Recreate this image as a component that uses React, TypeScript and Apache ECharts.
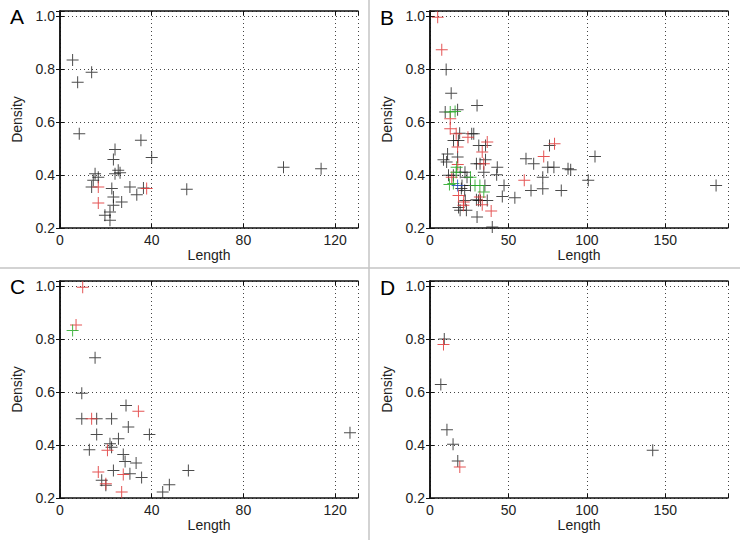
import React, { useEffect, useRef } from "react";
import * as echarts from "echarts";

// Panel A
const aBlack: number[][] = [
  [5.5, 0.835], [7.7, 0.751], [13.8, 0.789], [8.4, 0.556],
  [35.3, 0.532], [40, 0.466], [24, 0.497], [23.3, 0.459], [25.4, 0.418], [26.2, 0.409],
  [24, 0.405], [15.3, 0.405], [16.7, 0.392], [14.5, 0.38], [13.8, 0.355], [22.6, 0.349],
  [23.3, 0.317], [30.5, 0.355], [33.5, 0.326], [36.4, 0.351], [26.9, 0.298], [23.3, 0.286],
  [21.8, 0.26], [19.6, 0.248], [21.8, 0.229], [55.3, 0.346], [97.5, 0.43], [113.9, 0.424],
];
const aRed: number[][] = [[16.7, 0.355], [16.7, 0.294], [37.8, 0.349]];

// Panel B
const bBlack: number[][] = [
  [10.3, 0.799], [13.5, 0.709], [30, 0.663], [9.7, 0.638], [17.6, 0.647], [11.2, 0.48],
  [8.6, 0.458], [17.6, 0.468], [15, 0.531], [18.9, 0.558], [27.9, 0.556], [31.1, 0.512],
  [35.4, 0.512], [29.6, 0.443], [35.4, 0.458], [42.9, 0.43], [42.5, 0.401], [11.8, 0.399],
  [19.3, 0.411], [23.6, 0.392], [20.4, 0.361], [22.1, 0.342], [25.8, 0.361], [35, 0.361],
  [47.2, 0.361], [46.1, 0.319], [54.1, 0.314], [22.5, 0.304], [23.2, 0.267], [18.2, 0.277],
  [29.6, 0.307], [32.2, 0.304], [36.5, 0.304], [30, 0.242], [39.7, 0.204], [61.2, 0.462],
  [66.1, 0.443], [75.1, 0.43], [79, 0.43], [76.2, 0.512], [71.9, 0.392], [64.4, 0.342],
  [71.9, 0.348], [83.7, 0.342], [88, 0.424], [89.7, 0.42], [100.9, 0.38], [105.2, 0.47],
  [182.4, 0.361], [34.3, 0.411], [18.1, 0.531], [14.9, 0.399], [20, 0.349], [19.2, 0.267],
  [30.9, 0.304], [26.6, 0.556], [10.6, 0.449], [31.9, 0.443], [22.3, 0.411],
];
const bRed: number[][] = [
  [4.9, 0.996], [7.5, 0.874], [12.9, 0.613], [12.9, 0.575], [16.7, 0.556], [17.6, 0.506],
  [24.2, 0.543], [36.5, 0.525], [33.3, 0.487], [34.3, 0.443], [13.9, 0.392], [18.2, 0.323],
  [21.5, 0.298], [33.3, 0.288], [31.8, 0.317], [39, 0.264], [60.1, 0.38], [72.5, 0.47],
  [79.4, 0.518], [21.3, 0.286], [17.7, 0.44],
];
const bGreen: number[][] = [
  [12.9, 0.638], [16, 0.64], [12.4, 0.364], [16.7, 0.411], [25.8, 0.392], [31.8, 0.361],
  [34.3, 0.336], [17, 0.43], [14.9, 0.368], [28.7, 0.361],
];
const bBlue: number[][] = [[17.6, 0.361]];

// Panel C
const cBlack: number[][] = [
  [15.3, 0.73], [9.5, 0.596], [9.5, 0.499], [16, 0.499], [22.5, 0.499], [28.8, 0.55],
  [29.8, 0.468], [16, 0.44], [39, 0.44], [25.5, 0.424], [21.8, 0.405], [22.5, 0.392],
  [12.8, 0.382], [27.6, 0.364], [28.4, 0.338], [33.2, 0.332], [23.3, 0.304], [30.5, 0.292],
  [35.6, 0.277], [18.2, 0.267], [20, 0.248], [47.7, 0.25], [44.8, 0.223], [56, 0.304],
  [126.5, 0.447],
];
const cRed: number[][] = [
  [9.9, 0.996], [7, 0.854], [13.8, 0.499], [34.2, 0.528], [20.7, 0.38], [16.7, 0.298],
  [20, 0.254], [26.9, 0.223], [27.6, 0.289],
];
const cGreen: number[][] = [[5.5, 0.833]];

// Panel D
const dBlack: number[][] = [
  [9.1, 0.801], [6.9, 0.629], [10.8, 0.458], [14.7, 0.403], [17.7, 0.34], [142, 0.38],
];
const dRed: number[][] = [[8.6, 0.78], [19, 0.317]];

const panelLetters = ["A", "B", "C", "D"];
const xMaxes = [130, 190, 130, 190];
const xIntervals = [40, 50, 40, 50];
const yMin = 0.2;
const yMax = 1.02;
const yInterval = 0.2;
const xName = "Length";
const yName = "Density";

const PLUS =
  "path://M5.5,0 L6.5,0 L6.5,5.5 L12,5.5 L12,6.5 L6.5,6.5 L6.5,12 L5.5,12 L5.5,6.5 L0,6.5 L0,5.5 L5.5,5.5 Z";

const COLORS = {
  black: "rgba(25,25,25,0.78)",
  red: "rgba(225,55,55,0.85)",
  green: "rgba(40,170,40,0.85)",
  blue: "rgba(40,80,200,0.85)",
};

export default function App() {
  const ref = useRef<HTMLDivElement>(null);
  useEffect(() => {
    if (!ref.current) return;
    const chart = echarts.init(ref.current, undefined, { renderer: "svg" });
    const font = "Liberation Sans";
    const grids = [
      { left: 60, top: 11, width: 298, height: 217 },
      { left: 430, top: 11, width: 298, height: 217 },
      { left: 60, top: 281, width: 298, height: 217 },
      { left: 430, top: 281, width: 298, height: 217 },
    ];
    const xAxes: any[] = [];
    const yAxes: any[] = [];
    grids.forEach((_, i) => {
      xAxes.push({
        type: "value",
        gridIndex: i,
        position: "bottom",
        min: 0,
        max: xMaxes[i],
        interval: xIntervals[i],
        name: xName,
        nameLocation: "middle",
        nameGap: 16,
        nameTextStyle: { fontFamily: font, fontSize: 14, color: "#222" },
        axisLine: { show: true, lineStyle: { color: "#111", width: 1.5 } },
        axisTick: { show: true, inside: true, length: 4, lineStyle: { color: "#111" } },
        axisLabel: {
          fontFamily: font,
          fontSize: 14,
          color: "#222",
          margin: 5,
          formatter: (v: number) => (v % xIntervals[i] === 0 ? String(v) : ""),
        },
        splitLine: { show: true, lineStyle: { color: "#444", type: [1, 3], width: 1 } },
      });
      xAxes.push({
        type: "value",
        gridIndex: i,
        position: "top",
        min: 0,
        max: xMaxes[i],
        interval: xIntervals[i],
        axisLine: { show: true, lineStyle: { color: "#111", width: 1.5 } },
        axisTick: { show: true, inside: true, length: 4, lineStyle: { color: "#111" } },
        axisLabel: { show: false },
        splitLine: { show: false },
      });
      yAxes.push({
        type: "value",
        gridIndex: i,
        position: "left",
        min: yMin,
        max: yMax,
        interval: yInterval,
        name: yName,
        nameLocation: "middle",
        nameGap: 36,
        nameTextStyle: { fontFamily: font, fontSize: 14, color: "#222" },
        axisLine: { show: true, lineStyle: { color: "#111", width: 1.5 } },
        axisTick: { show: true, inside: true, length: 4, lineStyle: { color: "#111" } },
        axisLabel: {
          fontFamily: font,
          fontSize: 14,
          color: "#222",
          margin: 5,
          formatter: (v: number) =>
            Math.abs(v * 5 - Math.round(v * 5)) < 1e-6 ? v.toFixed(1) : "",
        },
        splitLine: { show: true, lineStyle: { color: "#444", type: [1, 3], width: 1 } },
      });
      yAxes.push({
        type: "value",
        gridIndex: i,
        position: "right",
        min: yMin,
        max: yMax,
        interval: yInterval,
        axisLine: { show: true, lineStyle: { color: "#111", width: 1.5 } },
        axisTick: { show: true, inside: true, length: 4, lineStyle: { color: "#111" } },
        axisLabel: { show: false },
        splitLine: { show: false },
      });
    });

    const mk = (data: number[][], panel: number, color: string) => ({
      type: "scatter",
      xAxisIndex: panel * 2,
      yAxisIndex: panel * 2,
      data,
      symbol: PLUS,
      symbolSize: 12,
      itemStyle: { color, opacity: 1 },
      emphasis: { disabled: true },
      silent: true,
    });

    const series = [
      mk(aBlack, 0, COLORS.black),
      mk(aRed, 0, COLORS.red),
      mk(bBlack, 1, COLORS.black),
      mk(bRed, 1, COLORS.red),
      mk(bGreen, 1, COLORS.green),
      mk(bBlue, 1, COLORS.blue),
      mk(cBlack, 2, COLORS.black),
      mk(cRed, 2, COLORS.red),
      mk(cGreen, 2, COLORS.green),
      mk(dBlack, 3, COLORS.black),
      mk(dRed, 3, COLORS.red),
    ];

    const letterPos = [
      [10, 6],
      [380, 7],
      [10, 276],
      [380, 277],
    ];

    chart.setOption({
      animation: false,
      backgroundColor: "#fff",
      grid: grids,
      xAxis: xAxes,
      yAxis: yAxes,
      series,
      graphic: [
        {
          type: "line",
          shape: { x1: 369, y1: 0, x2: 369, y2: 540 },
          style: { stroke: "#c4c4c4", lineWidth: 1.5 },
          silent: true,
        },
        {
          type: "line",
          shape: { x1: 0, y1: 268, x2: 740, y2: 268 },
          style: { stroke: "#c4c4c4", lineWidth: 1.5 },
          silent: true,
        },
        ...panelLetters.map((t, i) => ({
          type: "text",
          x: letterPos[i][0],
          y: letterPos[i][1],
          style: {
            text: t,
            fontFamily: font,
            fontSize: 21,
            fill: "#000",
          },
          silent: true,
        })),
      ],
    });
    return () => chart.dispose();
  }, []);
  return (
    <div
      ref={ref}
      style={{ position: "fixed", left: 0, top: 0, width: 740, height: 540 }}
    />
  );
}
